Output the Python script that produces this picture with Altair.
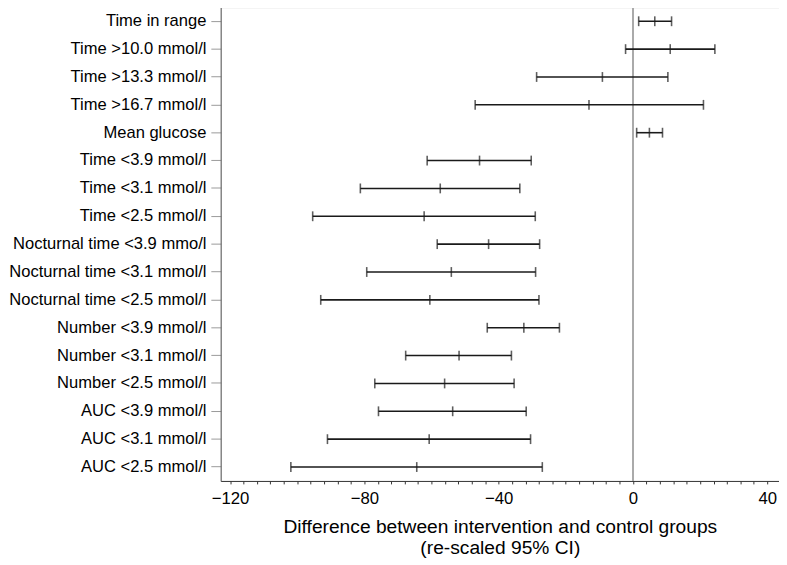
import altair as alt
import pandas as pd

labels = [
    "Time in range",
    "Time >10.0 mmol/l",
    "Time >13.3 mmol/l",
    "Time >16.7 mmol/l",
    "Mean glucose",
    "Time <3.9 mmol/l",
    "Time <3.1 mmol/l",
    "Time <2.5 mmol/l",
    "Nocturnal time <3.9 mmo/l",
    "Nocturnal time <3.1 mmol/l",
    "Nocturnal time <2.5 mmol/l",
    "Number <3.9 mmol/l",
    "Number <3.1 mmol/l",
    "Number <2.5 mmol/l",
    "AUC <3.9 mmol/l",
    "AUC <3.1 mmol/l",
    "AUC <2.5 mmol/l",
]
low = [1.7, -2.2, -28.7, -47.0, 1.1, -61.3, -81.2, -95.4, -58.3, -79.3, -93.0,
       -43.4, -67.7, -76.9, -75.8, -91.0, -101.9]
est = [6.5, 11.1, -9.1, -13.1, 4.9, -45.7, -57.4, -62.2, -43.0, -54.1, -60.5,
       -32.5, -51.8, -56.1, -53.7, -60.7, -64.4]
high = [11.5, 24.4, 10.4, 21.0, 8.8, -30.3, -33.7, -29.1, -27.8, -29.0, -28.0,
        -21.9, -36.2, -35.4, -31.8, -30.5, -27.0]

x_tick_values = list(range(-120, 41, 4))
x_title = ["Difference between intervention and control groups", "(re-scaled 95% CI)"]

df = pd.DataFrame({"measure": labels, "low": low, "est": est, "high": high})

FONT = "Liberation Sans"

xscale = alt.Scale(domain=[-122.8, 43.5], nice=False, zero=False)
xaxis = alt.Axis(
    values=x_tick_values,
    labelExpr="datum.value % 40 === 0 ? format(datum.value, 'd') : ''",
    tickSize=3,
    tickColor="#333",
    domainColor="#333",
    labelFontSize=17,
    labelColor="#000",
    labelPadding=7,
    labelFlush=False,
    labelFont=FONT,
    grid=False,
    title=x_title,
    titleFontSize=19.5,
    titleFontWeight="normal",
    titleColor="#000",
    titleFont=FONT,
    titlePadding=11,
    titleLineHeight=21.6,
)
yenc = alt.Y(
    "measure:N",
    sort=labels,
    title=None,
    scale=alt.Scale(paddingInner=0, paddingOuter=0),
    axis=alt.Axis(
        labelFontSize=16.8,
        labelColor="#000",
        labelFont=FONT,
        labelPadding=5,
        labelLimit=400,
        tickSize=10,
        tickColor="#999",
        domainColor="#555",
        grid=False,
    ),
)

base = alt.Chart(df)

zero = base.mark_rule(color="#aaa", strokeWidth=1).encode(
    x=alt.X(datum=0, scale=xscale, axis=xaxis)
)

bars = base.mark_rule(color="#1a1a1a", strokeWidth=1.6).encode(
    x=alt.X("low:Q", scale=xscale, axis=xaxis),
    x2="high:Q",
    y=yenc,
)

ticks = base.transform_fold(["low", "est", "high"], as_=["kind", "val"]).mark_tick(
    color="#1a1a1a", size=10, thickness=1.6
).encode(
    x=alt.X("val:Q", scale=xscale, axis=xaxis),
    y=yenc,
)

chart = (
    alt.layer(zero, bars, ticks)
    .properties(width=567, height=481, padding={"left": 0, "right": 0, "top": -6, "bottom": 0})
    .configure_view(stroke=None)
    .configure(font=FONT)
)

chart.save("out.html", embed_options={"renderer": "svg", "actions": False})
